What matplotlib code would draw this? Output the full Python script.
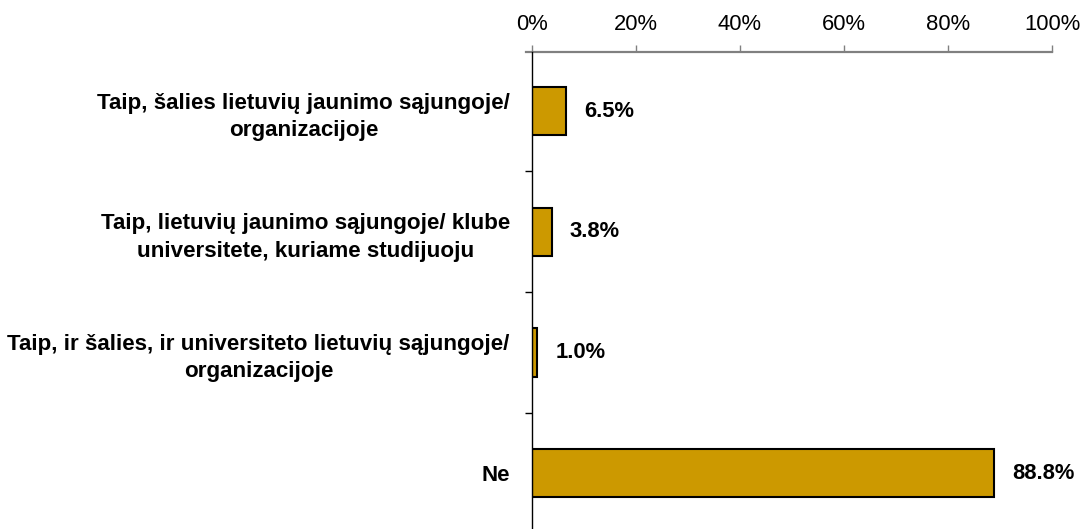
import matplotlib.pyplot as plt

plt.rcParams['font.family'] = ['Liberation Sans', 'DejaVu Sans']

categories = [
    "Taip, šalies lietuvių jaunimo sąjungoje/\norganizacijoje",
    "Taip, lietuvių jaunimo sąjungoje/ klube\nuniversitete, kuriame studijuoju",
    "Taip, ir šalies, ir universiteto lietuvių sąjungoje/\norganizacijoje",
    "Ne",
]
values = [6.5, 3.8, 1.0, 88.8]
xticks = [0, 20, 40, 60, 80, 100]

fig = plt.figure(figsize=(10.83, 5.29), dpi=100)
ax = fig.add_axes([532 / 1083, 0, (1052 - 532) / 1083, 1 - 52 / 529])

pos = list(range(len(categories)))
ax.barh(pos, values, height=0.4, color='#CC9900', edgecolor='black', linewidth=1.5, zorder=3)

ax.set_xlim(0, 100)
ax.set_ylim(3.463, -0.489)

ax.xaxis.tick_top()
ax.set_xticks(xticks)
ax.set_xticklabels([f"{t}%" for t in xticks], fontsize=15.8)
ax.tick_params(axis='x', direction='out', length=5, width=1, color='#808080', pad=7)

# boundary ticks on the category axis, labels at centres
ax.set_yticks([0.5, 1.5, 2.5])
ax.set_yticklabels([])
ax.set_yticks(pos, minor=True)
ax.set_yticklabels(categories, minor=True, fontsize=16.1, fontweight='bold')
ax.tick_params(axis='y', which='major', direction='out', length=5, width=1, color='black')
ax.tick_params(axis='y', which='minor', length=0, pad=16)
for lab in ax.get_yticklabels(minor=True):
    lab.set_multialignment('center')
    lab.set_linespacing(1.4)

for s in ['right', 'bottom']:
    ax.spines[s].set_visible(False)
ax.spines['top'].set_color('#808080')
ax.spines['top'].set_linewidth(1.6)
ax.spines['top'].set_bounds(-1.2, 100)
ax.spines['left'].set_color('black')
ax.spines['left'].set_linewidth(1)
ax.spines['left'].set_zorder(4)

for p, v in zip(pos, values):
    ax.annotate(f"{v:.1f}%", (v, p), xytext=(13, 0), textcoords='offset points',
                ha='left', va='center', fontsize=15.8, fontweight='bold')

fig.savefig('out.png', dpi=100)
